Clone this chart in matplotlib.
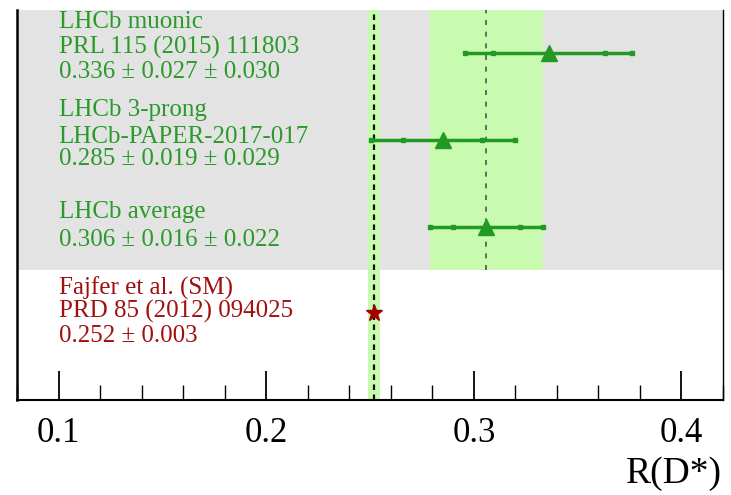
import matplotlib
matplotlib.use("Agg")
import matplotlib.pyplot as plt
import numpy as np

# measurements: name, reference, value, stat, syst
names = ["LHCb muonic", "LHCb 3-prong", "LHCb average"]
refs = ["PRL 115 (2015) 111803", "LHCb-PAPER-2017-017", None]
values = [0.336, 0.285, 0.306]
stat = [0.027, 0.019, 0.016]
syst = [0.030, 0.029, 0.022]
rows = [4, 3, 2]

# Standard Model prediction
sm_name = "Fajfer et al. (SM)"
sm_ref = "PRD 85 (2012) 094025"
sm_value = 0.252
sm_err = 0.003
sm_row = 1

green = "#2a9a2a"
bar_green = "#229922"
red = "#a01010"
band_green = "#c8fbb0"

plt.rcParams["font.family"] = ["Liberation Serif", "DejaVu Serif"]

fig = plt.figure(figsize=(7.31, 4.95), dpi=100)
ax = fig.add_axes([17 / 731, 95 / 495, 706 / 731, 390 / 495])
ax.set_xlim(0.08, 0.42)
ax.set_ylim(0, 4.5)

# grey area behind the LHCb results
ax.axhspan(1.5, 4.5, color="#e3e3e3", lw=0, zorder=0)

# LHCb average band and SM band
avg_tot = np.hypot(stat[2], syst[2])
ax.fill_between([values[2] - avg_tot, values[2] + avg_tot], 1.5, 4.5,
                color=band_green, lw=0, zorder=1)
ax.axvspan(sm_value - sm_err, sm_value + sm_err, color=band_green, lw=0, zorder=1)
ax.plot([values[2], values[2]], [1.5, 4.5], ls=(0, (3, 4)), color="#555555",
        lw=1.2, zorder=2)
ax.axvline(sm_value, ls=(0, (2.5, 2)), color="#111111", lw=1.6, zorder=2)

# error bars: inner = stat, outer = total
for v, s, e, y in zip(values, stat, syst, rows):
    tot = np.hypot(s, e)
    ax.plot([v - tot, v + tot], [y, y], color=bar_green, lw=2.5, zorder=3,
            solid_capstyle="butt")
    ax.plot([v - tot, v - s, v + s, v + tot], [y] * 4, ls="none", marker="s",
            ms=3.5, color=bar_green, zorder=3)
    ax.plot(v, y, marker="^", ms=11, color=bar_green, mec=bar_green, zorder=4)

ax.plot(sm_value, sm_row, marker="*", ms=12, color="#a00000", zorder=4)

# labels
text_x = 0.1
fs = 18
label_lines = [
    (4.36, names[0]), (4.07, refs[0]),
    (3.79, f"{values[0]:.3f} ± {stat[0]:.3f} ± {syst[0]:.3f}"),
    (3.35, names[1]), (3.04, refs[1]),
    (2.78, f"{values[1]:.3f} ± {stat[1]:.3f} ± {syst[1]:.3f}"),
    (2.17, names[2]),
    (1.85, f"{values[2]:.3f} ± {stat[2]:.3f} ± {syst[2]:.3f}"),
]
for y, t in label_lines:
    ax.text(text_x, y, t, color=green, fontsize=fs, va="center", ha="left")
for y, t in [(1.29, sm_name), (1.02, sm_ref), (0.74, f"{sm_value:.3f} ± {sm_err:.3f}")]:
    ax.text(text_x, y, t, color=red, fontsize=fs, va="center", ha="left")

# axes styling
ax.spines["top"].set_visible(False)
ax.spines["left"].set_linewidth(1.8)
ax.spines["bottom"].set_linewidth(1.5)
ax.spines["right"].set_linewidth(1.0)
ax.set_yticks([])
ax.set_xticks([0.1, 0.2, 0.3, 0.4])
ax.set_xticklabels(["0.1", "0.2", "0.3", "0.4"])
ax.set_xticks(np.arange(0.08, 0.421, 0.02), minor=True)
ax.tick_params(axis="x", which="major", direction="in", length=21, width=1.3,
               labelsize=25, pad=12)
ax.tick_params(axis="x", which="minor", direction="in", length=11, width=1.0)
fig.text(722 / 731, 1 - 474 / 495, "R(D*)", fontsize=27, ha="right", va="center")

fig.savefig("out.png", dpi=100)
